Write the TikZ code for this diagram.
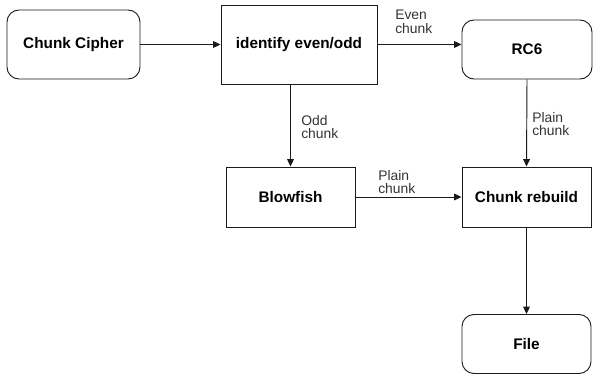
\documentclass[tikz,border=0pt]{standalone}
\usepackage{fontspec}
\setmainfont{Liberation Sans}
\usetikzlibrary{arrows.meta}
\definecolor{edge-col}{HTML}{1A1A1A}
\definecolor{label-col}{HTML}{333333}

\begin{document}
\begin{tikzpicture}[x=0.75pt, y=-0.75pt,
      box/.style={draw=edge-col, fill=white, line width=0.7pt,
        font=\fontsize{11.5}{13}\selectfont\bfseries, inner sep=0pt},
      roundbox/.style={box, rounded corners=9pt},
      lab/.style={font=\fontsize{10.4}{10}\selectfont, text=label-col,
        align=left, anchor=north west, inner sep=0pt},
      link/.style={draw=edge-col, line width=0.7pt,
        -{Triangle[length=5.5pt, width=5pt]}}]
    \useasboundingbox (0,0) rectangle (593,374);
    % boxes
    \node[roundbox, minimum width=99.75pt, minimum height=51.75pt]
      (cipher) at (73.5,44.5) {Chunk Cipher};
    \node[box, minimum width=117pt, minimum height=59.25pt]
      (ident) at (299,44.5) {identify even/odd};
    \node[roundbox, minimum width=97.5pt, minimum height=44.25pt]
      (rcsix) at (527,49.5) {RC6};
    \node[box, minimum width=96.75pt, minimum height=45pt]
      (blow) at (290.5,197) {Blowfish};
    \node[box, minimum width=96.75pt, minimum height=45pt]
      (rebuild) at (526.5,197) {Chunk rebuild};
    \node[roundbox, minimum width=96.75pt, minimum height=44.25pt]
      (file) at (526.5,344) {File};
    % labels
    \node[lab] (evenlab) at (395,10) {Even\\chunk};
    \node[lab] (oddlab) at (301,115) {Odd\\chunk};
    \node[lab] (plainA) at (532,112) {Plain\\chunk};
    \node[lab] (plainB) at (378,170) {Plain\\chunk};
    % arrows
    \draw[link] (cipher.east) -- (ident.west);
    \draw[link] (ident.east) -- (ident.east -| rcsix.west);
    \draw[link] (ident.south -| blow.north) -- (blow.north);
    \draw[link] (rcsix.south) -- (rebuild.north);
    \draw[link] (blow.east) -- (rebuild.west);
    \draw[link] (rebuild.south) -- (file.north);
  \end{tikzpicture}
\end{document}
